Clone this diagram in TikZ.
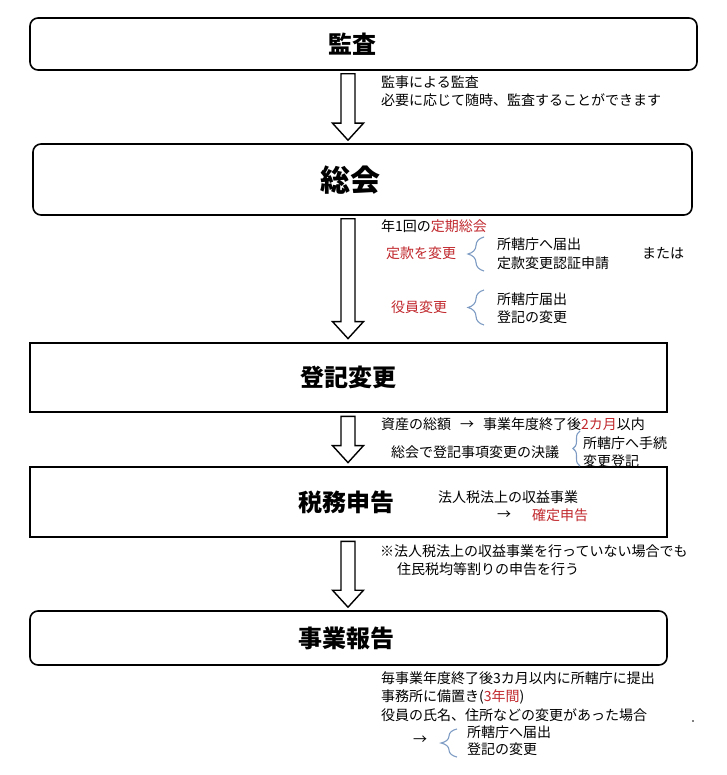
\documentclass[tikz,border=0pt]{standalone}
\usepackage{fontspec}
\setmainfont{Noto Sans CJK JP}
\usepackage{xcolor}
\usetikzlibrary{calc,decorations.pathreplacing}

\definecolor{notered}{RGB}{192,40,45}
\definecolor{braceblue}{RGB}{125,155,195}

\newcommand{\hollowarrow}[2]{%
  \draw[bigarrow] let \p1=#1, \p2=#2 in
    (\x1-7pt,\y1) -- (\x1+7pt,\y1) -- (\x1+7pt,\y2+17pt) -- (\x1+15.5pt,\y2+17pt)
    -- (\x1,\y2) -- (\x1-15.5pt,\y2+17pt) -- (\x1-7pt,\y2+17pt) -- cycle;}

\begin{document}
\begin{tikzpicture}[x=1pt, y=-1pt,
  roundbox/.style={draw, line width=1.6pt, rounded corners=8pt, inner sep=0pt},
  flatbox/.style={draw, line width=2.8pt, inner sep=0pt},
  head/.style={font=\bfseries\fontsize{24pt}{26pt}\selectfont},
  note/.style={anchor=west, inner sep=0pt, font=\fontsize{14pt}{16pt}\selectfont},
  bigarrow/.style={line width=1.4pt, fill=white, line join=miter},
  curly/.style={draw=braceblue, line width=1.1pt, decorate}]
\useasboundingbox (0,0) rectangle (726,775);

% Boxes
\node[roundbox, minimum width=667pt, minimum height=52pt] (kansa) at (363.5,44) {};
\node[head] (kansat) at (352,44) {監査};
\node[roundbox, minimum width=659pt, minimum height=71pt] (sokai) at (362.5,179.5) {};
\node[head, font=\bfseries\fontsize{30pt}{32pt}\selectfont] (sokait) at (350,180) {総会};
\node[flatbox, minimum width=637pt, minimum height=69pt, head] (toki) at (348.5,377.5) {登記変更};
\node[flatbox, minimum width=637pt, minimum height=70pt] (zeimu) at (348.5,502) {};
\node[head] (zeimut) at (346,502) {税務申告};
\node[roundbox, minimum width=637pt, minimum height=54pt] (jigyo) at (348.5,638) {};
\node[head] (jigyot) at (346,638) {事業報告};

% Arrows
\coordinate (ax) at (348,0);
\hollowarrow{($(kansa.south-|ax)+(0,3)$)}{($(sokai.north-|ax)+(0,-3)$)}
\hollowarrow{($(sokai.south-|ax)+(0,3)$)}{($(toki.north-|ax)+(0,-3)$)}
\hollowarrow{($(toki.south-|ax)+(0,3)$)}{($(zeimu.north-|ax)+(0,-3)$)}
\hollowarrow{($(zeimu.south-|ax)+(0,3)$)}{($(jigyo.north-|ax)+(0,-3)$)}

% Audit notes
\node[note] (k1) at (381,82) {監事による監査};
\node[note] (k2) at (381,100) {必要に応じて随時、監査することができます};

% General meeting notes
\node[note] (s1) at (381,226) {年1回の\textcolor{notered}{定期総会}};
\node[note, text=notered] (s2) at (386,253) {定款を変更};
\node[note] (s3) at (497,244) {所轄庁へ届出};
\node[note] (s4) at (497,263) {定款変更認証申請};
\node[note] (s5) at (642,253) {または};
\node[note, text=notered] (s6) at (391,307) {役員変更};
\node[note] (s7) at (497,299) {所轄庁届出};
\node[note] (s8) at (497,317) {登記の変更};
\draw[curly, decoration={brace, amplitude=16pt}] (484,271) -- (484,237);
\draw[curly, decoration={brace, amplitude=16pt}] (484,325) -- (484,290);

% Registration notes
\node[note] (t1) at (381,424) {資産の総額\hspace{9pt}→\hspace{9pt}事業年度終了後\textcolor{notered}{2カ月}以内};
\node[note] (t2) at (391,452) {総会で登記事項変更の決議};
\node[note] (t3) at (583,443) {所轄庁へ手続};
\node[note] (t4) at (583,461) {変更登記};
\draw[curly, decoration={brace, amplitude=7pt}] (580,466) -- (580,431);

% Tax notes
\node[note] (z1) at (438,497) {法人税法上の収益事業};
\node[note] (z2) at (497,515) {→};
\node[note, text=notered] (z3) at (532,515) {確定申告};
\node[note] (z4) at (380,551) {※法人税法上の収益事業を行っていない場合でも};
\node[note] (z5) at (397,569) {住民税均等割りの申告を行う};

% Report notes
\node[note] (j1) at (381,678) {毎事業年度終了後3カ月以内に所轄庁に提出};
\node[note] (j2) at (381,697) {事務所に備置き(\textcolor{notered}{3年間})};
\node[note] (j3) at (381,715) {役員の氏名、住所などの変更があった場合};
\node[note] (j4) at (413,740) {→};
\node[note] (j5) at (467,732) {所轄庁へ届出};
\node[note] (j6) at (467,749) {登記の変更};
\draw[curly, decoration={brace, amplitude=16pt}] (457,757) -- (457,729);

\fill (693,721) circle (0.8pt);
\end{tikzpicture}
\end{document}
